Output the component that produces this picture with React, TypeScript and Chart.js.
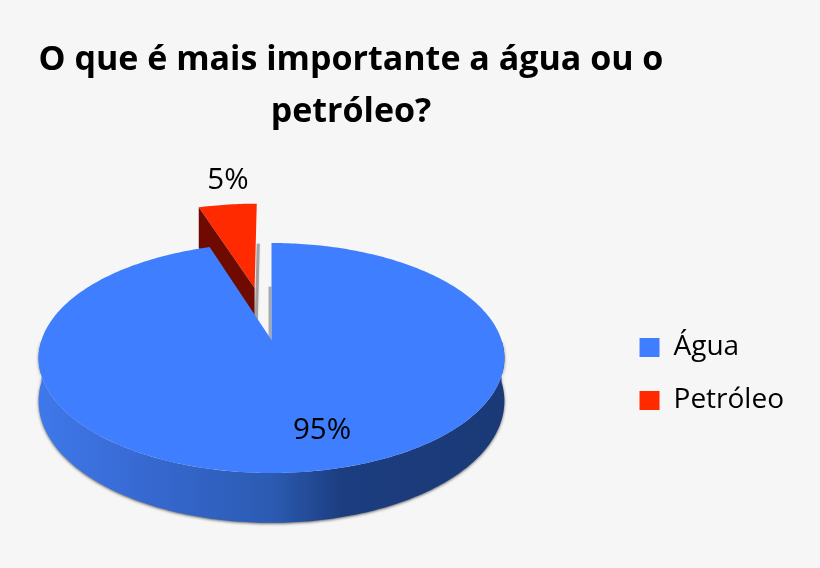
import { useEffect, useRef } from "react"
import { Chart, registerables } from "chart.js"

Chart.register(...registerables)

const categories = ["Água", "Petróleo"]
const values = [95, 5]
const sliceColors = ["#3f7fff", "#ff2a00"]
const titleLines = ["O que é mais importante a água ou o", "petróleo?"]
const labelSpots = [
  { x: 322, y: 431 },
  { x: 228, y: 181 },
]

const BG = "#f6f6f6"
const FONT = "'Open Sans', sans-serif"

// perspective of the pie plane
const CX = 271.5
const VY = 340
const A = 230
const C = 112.2
const K = 0.1565
const DEPTH = 42
const EXPLODE = [0, 0.506]

function project(u: number, v: number, depth = 0) {
  const w = 1 + K * v
  return { x: CX + (A * u) / w, y: VY - (C * v) / w + depth / w }
}

function arcPoints(from: number, to: number, du: number, dv: number, depth: number) {
  const pts = []
  const steps = Math.max(4, Math.ceil(Math.abs(to - from) * 60))
  for (let i = 0; i <= steps; i++) {
    const t = from + ((to - from) * i) / steps
    pts.push(project(Math.sin(t) + du, Math.cos(t) + dv, depth))
  }
  return pts
}

function fillPath(ctx: CanvasRenderingContext2D, pts: { x: number; y: number }[]) {
  ctx.beginPath()
  pts.forEach((p, i) => (i ? ctx.lineTo(p.x, p.y) : ctx.moveTo(p.x, p.y)))
  ctx.closePath()
  ctx.fill()
}

const pie3d = {
  id: "pie3d",
  afterLayout(chart: any) {
    // title is centred over the pie, legend sits lower than the middle
    chart.titleBlock.left = 0
    chart.titleBlock.right = 702
    chart.legend.top += 90
    chart.legend.bottom += 90
  },
  beforeDatasetsDraw(chart: any) {
    const ctx: CanvasRenderingContext2D = chart.ctx
    const arcs = chart.getDatasetMeta(0).data
    const angles = arcs.map((a: any) => [a.startAngle + Math.PI / 2, a.endAngle + Math.PI / 2])

    // exploded slice goes first, the big one covers its lower part
    const [s, e] = angles[1]
    const mid = (s + e) / 2
    const du = Math.sin(mid) * EXPLODE[1]
    const dv = Math.cos(mid) * EXPLODE[1]
    const tip = project(du, dv)
    const tipLow = project(du, dv, DEPTH)
    const corner = project(Math.sin(s) + du, Math.cos(s) + dv)
    const cornerLow = project(Math.sin(s) + du, Math.cos(s) + dv, DEPTH + 8)
    const outer = arcPoints(s, e, du, dv, 0)
    const last = outer[outer.length - 1]

    // grey edge to the right of the red slice
    ctx.save()
    ctx.strokeStyle = "rgba(130,130,130,0.65)"
    ctx.lineWidth = 3
    ctx.shadowColor = "rgba(130,130,130,0.5)"
    ctx.shadowBlur = 2
    ctx.beginPath()
    ctx.moveTo(tipLow.x + 1.5, tipLow.y)
    ctx.lineTo(last.x + 1.5, last.y + 40)
    ctx.stroke()
    ctx.restore()

    ctx.fillStyle = sliceColors[1]
    fillPath(ctx, [tip, ...outer])

    ctx.fillStyle = "#6f0a00"
    fillPath(ctx, [corner, tip, tipLow, cornerLow])

    // wall of the big slice
    const wall = ctx.createLinearGradient(39, 0, 505, 0)
    wall.addColorStop(0, "#3f78ea")
    wall.addColorStop(0.22, "#3769d2")
    wall.addColorStop(0.5, "#2b5bb2")
    wall.addColorStop(0.65, "#1c3d80")
    wall.addColorStop(1, "#1a3976")
    const top = arcPoints(Math.PI / 2, (3 * Math.PI) / 2, 0, 0, 0)
    const low = arcPoints(Math.PI / 2, (3 * Math.PI) / 2, 0, 0, DEPTH).reverse()
    ctx.save()
    ctx.shadowColor = "rgba(60,60,60,0.8)"
    ctx.shadowBlur = 3
    ctx.shadowOffsetY = 1
    ctx.fillStyle = wall
    fillPath(ctx, [...top, ...low])
    ctx.restore()

    // soft edge on the cut of the big slice
    const [bs, be] = angles[0]
    const vertex = project(0, 0)
    const edgeTop = project(Math.sin(bs), Math.cos(bs))
    ctx.save()
    ctx.strokeStyle = "rgba(120,120,120,0.6)"
    ctx.lineWidth = 3
    ctx.beginPath()
    ctx.moveTo(vertex.x - 1.5, vertex.y)
    ctx.lineTo(vertex.x - 1.5, vertex.y + (edgeTop.y - vertex.y) * 0.55)
    ctx.stroke()
    ctx.restore()

    ctx.fillStyle = sliceColors[0]
    fillPath(ctx, [vertex, ...arcPoints(bs, be, 0, 0, 0)])

    ctx.fillStyle = "#000"
    ctx.font = `29.5px ${FONT}`
    ctx.textAlign = "center"
    ctx.textBaseline = "middle"
    values.forEach((v, i) => ctx.fillText(`${v}%`, labelSpots[i].x, labelSpots[i].y))
    return false
  },
}

export default function App() {
  const canvasRef = useRef<HTMLCanvasElement>(null)

  useEffect(() => {
    document.body.style.margin = "0"
    document.body.style.background = BG
    if (!canvasRef.current) return
    const chart = new Chart(canvasRef.current, {
      type: "pie",
      data: {
        labels: categories,
        datasets: [{ data: values, backgroundColor: sliceColors, borderWidth: 0 }],
      },
      options: {
        responsive: false,
        animation: false,
        layout: { padding: { right: 26 } },
        plugins: {
          title: {
            display: true,
            text: titleLines,
            color: "#000",
            font: { family: FONT, size: 34, weight: "bold", lineHeight: 1.53 },
            padding: { top: 34, bottom: 8 },
          },
          legend: {
            position: "right",
            labels: {
              color: "#000",
              font: { family: FONT, size: 28 },
              boxWidth: 20,
              boxHeight: 19,
              padding: 25,
            },
          },
          tooltip: { enabled: false },
        },
      },
      plugins: [pie3d],
    } as any)
    return () => chart.destroy()
  }, [])

  return <canvas ref={canvasRef} width={820} height={568} style={{ display: "block" }} />
}
